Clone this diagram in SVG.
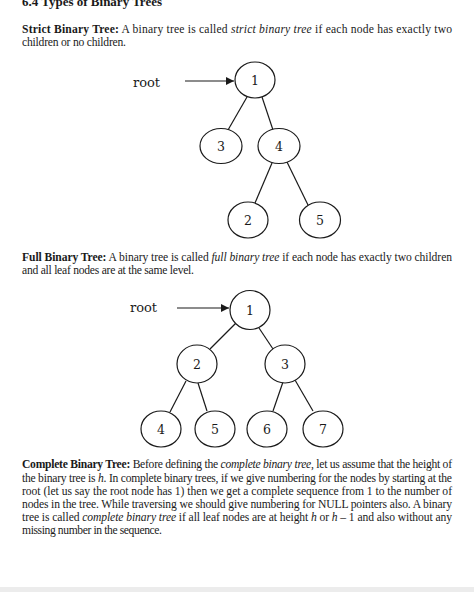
<svg xmlns="http://www.w3.org/2000/svg" width="474" height="592" viewBox="0 0 474 592">
<style>
.p{font-family:"Liberation Serif","Times New Roman",serif;font-size:11.6px;fill:#1a1a1a}
.b{font-weight:bold}
.i{font-style:italic}
.n ellipse{fill:#fff;stroke:#1a1a1a;stroke-width:1.2}
.n text{font-family:"DejaVu Serif",serif;font-size:12.5px;fill:#1a1a1a;text-anchor:middle}
.lbl{font-family:"DejaVu Serif",serif;font-size:13px;fill:#1a1a1a}
.e line{stroke:#1a1a1a;stroke-width:1.2}
</style>
<defs>
<marker id="ah" viewBox="0 0 10 10" refX="10" refY="5" markerWidth="9" markerHeight="8" markerUnits="userSpaceOnUse" orient="auto">
<path d="M0,0 L10,5 L0,10 z" fill="#1a1a1a"/>
</marker>
</defs>
<rect width="474" height="592" fill="#fff"/>
<rect x="0" y="587" width="474" height="5" fill="#ececec"/>
<text class="p b" x="22" y="6" font-size="15" textLength="140" lengthAdjust="spacingAndGlyphs">6.4 Types of Binary Trees</text>
<text class="p" x="22" y="33" textLength="430" lengthAdjust="spacing"><tspan class="b">Strict Binary Tree:</tspan> A binary tree is called <tspan class="i">strict binary tree</tspan> if each node has exactly two</text>
<text class="p" x="22" y="46" textLength="104" lengthAdjust="spacing">children or no children.</text>

<g id="edges1" class="e">
<line x1="185" y1="81" x2="234" y2="81" marker-end="url(#ah)"/>
<line x1="247" y1="97" x2="228" y2="130"/>
<line x1="262" y1="97" x2="273" y2="130"/>
<line x1="272" y1="163" x2="255" y2="203"/>
<line x1="287" y1="162" x2="308" y2="205"/>
</g>
<text id="root1" class="lbl" x="133" y="87">root</text>
<g id="t1n1" class="n"><ellipse cx="255" cy="80" rx="20" ry="18"/><text x="255" y="85">1</text></g>
<g id="t1n3" class="n"><ellipse cx="221" cy="146" rx="21" ry="17.5"/><text x="221" y="151">3</text></g>
<g id="t1n4" class="n"><ellipse cx="279" cy="146" rx="21" ry="17.5"/><text x="279" y="151">4</text></g>
<g id="t1n2" class="n"><ellipse cx="248" cy="220" rx="20" ry="18"/><text x="248" y="225">2</text></g>
<g id="t1n5" class="n"><ellipse cx="320" cy="220" rx="20.5" ry="18"/><text x="320" y="225">5</text></g>

<text class="p" x="22" y="261" textLength="430" lengthAdjust="spacing"><tspan class="b">Full Binary Tree:</tspan> A binary tree is called <tspan class="i">full binary tree</tspan> if each node has exactly two children</text>
<text class="p" x="22" y="274" textLength="172" lengthAdjust="spacing">and all leaf nodes are at the same level.</text>

<g id="edges2" class="e">
<line x1="177" y1="308" x2="229" y2="308" marker-end="url(#ah)"/>
<line x1="236" y1="323" x2="210" y2="349"/>
<line x1="259" y1="328" x2="273" y2="349"/>
<line x1="186" y1="381" x2="170" y2="412"/>
<line x1="198" y1="383" x2="207" y2="411"/>
<line x1="283" y1="382" x2="273" y2="411"/>
<line x1="295" y1="380" x2="313" y2="411"/>
</g>
<text id="root2" class="lbl" x="130" y="312">root</text>
<g id="t2n1" class="n"><ellipse cx="250" cy="310" rx="20" ry="19.5"/><text x="250" y="315">1</text></g>
<g id="t2n2" class="n"><ellipse cx="197" cy="364" rx="20" ry="19"/><text x="197" y="369">2</text></g>
<g id="t2n3" class="n"><ellipse cx="285" cy="364" rx="20" ry="19"/><text x="285" y="369">3</text></g>
<g id="t2n4" class="n"><ellipse cx="161" cy="429" rx="20" ry="18"/><text x="161" y="434">4</text></g>
<g id="t2n5" class="n"><ellipse cx="215" cy="429" rx="20" ry="18"/><text x="215" y="434">5</text></g>
<g id="t2n6" class="n"><ellipse cx="267" cy="429" rx="20" ry="18"/><text x="267" y="434">6</text></g>
<g id="t2n7" class="n"><ellipse cx="323" cy="429" rx="20" ry="18"/><text x="323" y="434">7</text></g>

<text class="p" x="22" y="468" textLength="430" lengthAdjust="spacing"><tspan class="b">Complete Binary Tree:</tspan> Before defining the <tspan class="i">complete binary tree</tspan>, let us assume that the height of</text>
<text class="p" x="22" y="481.5" textLength="430" lengthAdjust="spacing">the binary tree is <tspan class="i">h</tspan>. In complete binary trees, if we give numbering for the nodes by starting at the</text>
<text class="p" x="22" y="494.5" textLength="430" lengthAdjust="spacing">root (let us say the root node has 1) then we get a complete sequence from 1 to the number of</text>
<text class="p" x="22" y="507.5" textLength="430" lengthAdjust="spacing">nodes in the tree. While traversing we should give numbering for NULL pointers also. A binary</text>
<text class="p" x="22" y="520.5" textLength="430" lengthAdjust="spacing">tree is called <tspan class="i">complete binary tree</tspan> if all leaf nodes are at height <tspan class="i">h</tspan> or <tspan class="i">h</tspan> – 1 and also without any</text>
<text class="p" x="22" y="533.5" textLength="140" lengthAdjust="spacing">missing number in the sequence.</text>
</svg>
